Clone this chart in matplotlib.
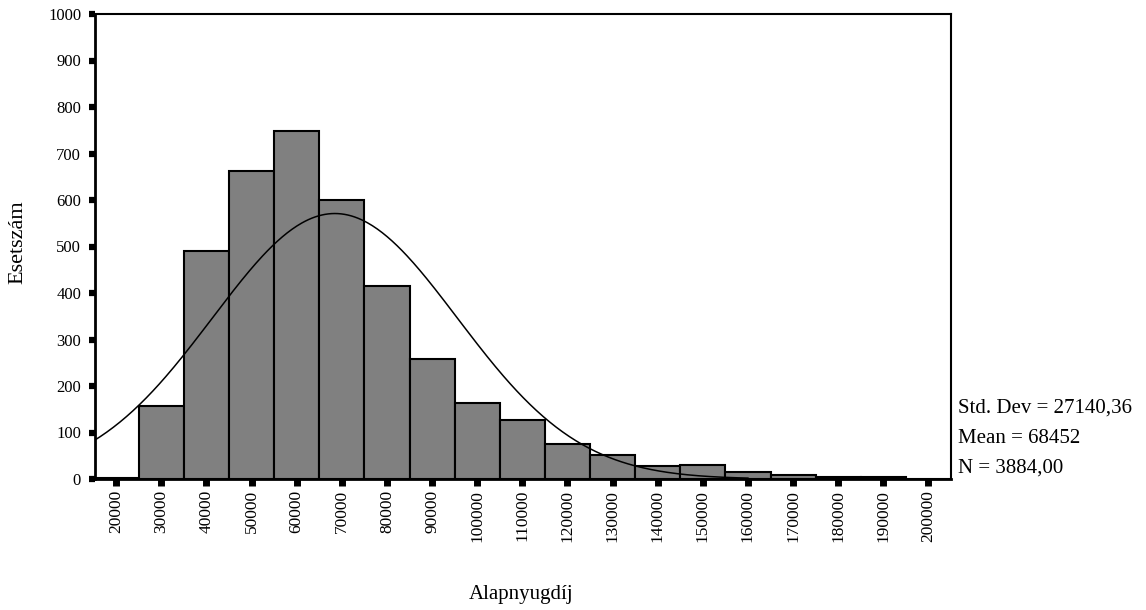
import numpy as np
import matplotlib
matplotlib.use("Agg")
import matplotlib.pyplot as plt

# ---- data ----
bin_centers = [20000, 30000, 40000, 50000, 60000, 70000, 80000, 90000, 100000,
               110000, 120000, 130000, 140000, 150000, 160000, 170000, 180000,
               190000, 200000]
counts = [3, 158, 491, 663, 749, 599, 414, 257, 164, 126, 75, 52, 28, 31, 14, 9, 5, 5, 0]
bin_width = 10000
std_dev = 27140.36
mean = 68452
n_cases = 3884
y_ticks = list(range(0, 1001, 100))
stats_lines = ["Std. Dev = 27140,36", "Mean = 68452", "N = 3884,00"]
x_label = "Alapnyugdíj"
y_label = "Esetszám"

plt.rcParams['font.family'] = ['Liberation Serif', 'DejaVu Serif']

fig = plt.figure(figsize=(11.46, 6.10), dpi=100)
ax = fig.add_axes([95/1146, 1 - 479/610, (951-95)/1146, (479-14)/610])

ax.bar(bin_centers, counts, width=bin_width, color='#808080', edgecolor='black',
       linewidth=1.5, align='center', zorder=2)

# fitted normal curve from the stated statistics
xs = np.linspace(15000, 160000, 400)
pdf = np.exp(-0.5 * ((xs - mean) / std_dev) ** 2) / (std_dev * np.sqrt(2 * np.pi))
ax.plot(xs, n_cases * bin_width * pdf, color='black', linewidth=1.1, zorder=3)

ax.set_xlim(15300, 205000)
ax.set_ylim(0, 1000)
ax.set_xticks(bin_centers)
ax.set_xticklabels([str(v) for v in bin_centers], rotation=90, fontsize=12.5)
ax.set_yticks(y_ticks)
ax.set_yticklabels([str(v) for v in y_ticks], fontsize=12)
ax.tick_params(axis='x', direction='out', length=5, width=5, pad=3, color='black')
ax.tick_params(axis='y', direction='out', length=4, width=4.5, pad=6, color='black')

for side in ['left', 'bottom']:
    ax.spines[side].set_linewidth(2)
for side in ['top', 'right']:
    ax.spines[side].set_linewidth(1.5)

fig.text(18/1146, 1 - 242/610, y_label, rotation=90, fontsize=16,
         ha='center', va='center')
fig.text(521/1146, 1 - 594/610, x_label, fontsize=15, ha='center', va='center')

baselines = [413, 443, 473]
for line, yb in zip(stats_lines, baselines):
    fig.text(958/1146, 1 - yb/610, line, fontsize=15, ha='left', va='baseline')

fig.savefig("out.png", dpi=100)
